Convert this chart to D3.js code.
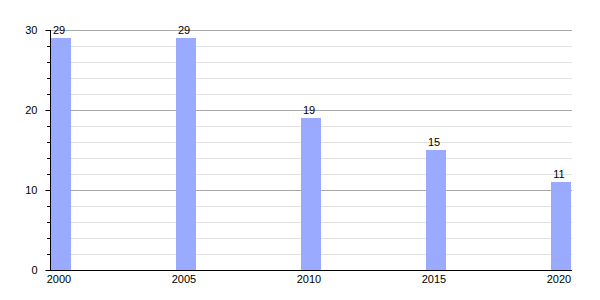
<!DOCTYPE html>
<html><head><meta charset="utf-8">
<script src="https://cdn.jsdelivr.net/npm/d3@7"></script>
<style>body{margin:0;background:#fff}svg{display:block;font-family:"Liberation Sans",Arial,sans-serif}</style>
</head><body><svg id="c" width="600" height="300"></svg>
<script>
const years = [2000, 2005, 2010, 2015, 2020];
const values = [29, 29, 19, 15, 11];
const yTicks = [0, 10, 20, 30];
const svg = d3.select("#c");
const x = d3.scaleLinear().domain([2000, 2020.84]).range([51, 572]);
const y = d3.scaleLinear().domain([0, 30]).range([270, 30]);
const bw = x(2000.8) - x(2000);
// minor grid
svg.append("g").selectAll("line").data(d3.range(2, 30, 2).filter(v => v % 10 !== 0)).join("line")
  .attr("x1", 50).attr("x2", 572).attr("y1", d => y(d) + 0.5).attr("y2", d => y(d) + 0.5)
  .attr("stroke", "#e2e2e2");
svg.append("g").selectAll("line").data([10, 20, 30]).join("line")
  .attr("x1", 50).attr("x2", 572).attr("y1", d => y(d) + 0.5).attr("y2", d => y(d) + 0.5)
  .attr("stroke", "#a8a8a8");
// bars
svg.append("g").selectAll("rect").data(years).join("rect")
  .attr("x", (d) => x(d)).attr("width", bw)
  .attr("y", (d, i) => y(values[i])).attr("height", (d, i) => y(0) - y(values[i]))
  .attr("fill", "#99aaff");
svg.append("g").selectAll("text").data(years).join("text")
  .attr("x", d => x(d) + bw / 2 - 2).attr("y", (d, i) => y(values[i]) - 4)
  .attr("text-anchor", "middle").attr("font-size", 11).text((d, i) => values[i]);
// y axis
const ya = d3.axisLeft(y).tickValues(yTicks).tickSize(5).tickFormat(d3.format("d"));
const gy = svg.append("g").attr("transform", "translate(50.5,0)").call(ya);
gy.select(".domain").remove();
gy.selectAll("text").attr("font-size", 11).attr("fill", "#000").attr("font-family", "Liberation Sans, Arial, sans-serif").attr("x", -13);
gy.selectAll("line").attr("stroke", "#000");
svg.append("g").selectAll("line").data(d3.range(2, 30, 2).filter(v => v % 10 !== 0)).join("line")
  .attr("x1", 47).attr("x2", 50).attr("y1", d => y(d) + 0.5).attr("y2", d => y(d) + 0.5).attr("stroke", "#000");
svg.append("line").attr("x1", 50.5).attr("x2", 50.5).attr("y1", y(30)).attr("y2", y(0)).attr("stroke", "#000");
svg.append("line").attr("x1", 50).attr("x2", 572).attr("y1", y(0) + 0.5).attr("y2", y(0) + 0.5).attr("stroke", "#000");
// x labels
svg.append("g").selectAll("text").data(years).join("text")
  .attr("x", d => x(d) + bw / 2 - 2).attr("y", 283)
  .attr("text-anchor", "middle").attr("font-size", 11).text(d => d);
</script></body></html>
